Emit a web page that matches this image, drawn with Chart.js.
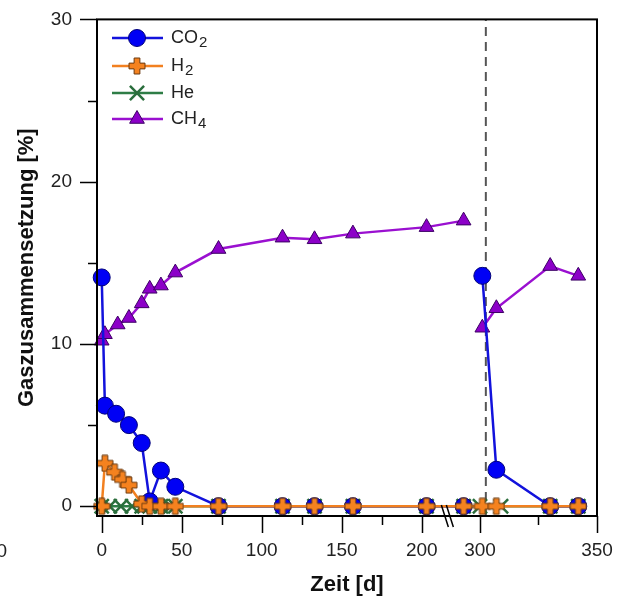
<!DOCTYPE html>
<html>
<head>
<meta charset="utf-8">
<script src="https://cdn.jsdelivr.net/npm/chart.js@4.4.1/dist/chart.umd.min.js"></script>
<style>
  html, body { margin: 0; padding: 0; background: #fff; }
</style>
</head>
<body>
<canvas id="chart" width="623" height="599"></canvas>
<script>
// days of sampling (null value = gap after restart)
const co2Days = [0, 2, 9, 17, 25, 30, 37, 46, 73, 113, 133, 157, 203, 293, 297, 301, 307, 330, 342];
const co2Values = [14.1, 6.2, 5.7, 5.0, 3.9, 0.3, 2.2, 1.2, 0, 0, 0, 0, 0, 0, null, 14.2, 2.25, 0, 0];

const h2Days = [0, 2, 8, 13, 17, 25, 30, 37, 46, 73, 113, 133, 157, 203, 293, 301, 307, 330, 342];
const h2Values = [0, 2.65, 2.1, 1.65, 1.3, 0.15, 0, 0, 0, 0, 0, 0, 0, 0, 0, 0, 0, 0, 0];

const heDays = [0, 5, 12, 19, 25, 30, 37, 43, 46, 73, 113, 133, 157, 203, 293, 300, 309, 330, 342];
const heValues = [0, 0, 0, 0, 0, 0, 0, 0, 0, 0, 0, 0, 0, 0, 0, 0, 0, 0, 0];

const ch4Days = [0, 2, 10, 17, 25, 30, 37, 46, 73, 113, 133, 157, 203, 293, 297, 301, 307, 330, 342];
const ch4Values = [10.2, 10.6, 11.2, 11.6, 12.5, 13.4, 13.6, 14.4, 15.85, 16.55, 16.45, 16.8, 17.2, 17.6, null, 11.0, 12.2, 14.8, 14.2];

const restartDay = 302.5;

const xMajor = [0, 50, 100, 150, 200, 300, 350];
const xMinor = [25, 75, 125, 175, 325];
const yMajor = [0, 10, 20, 30];
const yMinor = [5, 15, 25];

// broken x axis: 0..~215 linear, then 285..350 stretched
function axisPos(d) {
  return d < 260 ? d : 236.4 + (d - 300) * 1.4625;
}
function axisDay(p) {
  return p < 220 ? p : 300 + (p - 236.4) / 1.4625;
}
function pts(days, vals) {
  return days.map((d, i) => ({ x: axisPos(d), y: vals[i] }));
}

// outlined plus marker for H2
function plusMarker(size, fill, stroke) {
  const c = document.createElement("canvas");
  c.width = size;
  c.height = size;
  const g = c.getContext("2d");
  const m = size / 2, a = size / 2 - 1, t = size * 0.16;
  g.beginPath();
  g.moveTo(m - t, m - a);
  g.lineTo(m + t, m - a);
  g.lineTo(m + t, m - t);
  g.lineTo(m + a, m - t);
  g.lineTo(m + a, m + t);
  g.lineTo(m + t, m + t);
  g.lineTo(m + t, m + a);
  g.lineTo(m - t, m + a);
  g.lineTo(m - t, m + t);
  g.lineTo(m - a, m + t);
  g.lineTo(m - a, m - t);
  g.lineTo(m - t, m - t);
  g.closePath();
  g.fillStyle = fill;
  g.fill();
  g.lineWidth = 1;
  g.strokeStyle = stroke;
  g.stroke();
  return c;
}
const h2Marker = plusMarker(18, "#f5821f", "#6a3a10");

const tickFont = { family: "'Liberation Sans', Arial, sans-serif", size: 19 };
const titleFont = "bold 22px 'Liberation Sans', Arial, sans-serif";

const decor = {
  id: "decor",
  afterDraw(chart) {
    const ctx = chart.ctx;
    const a = chart.chartArea;
    const xs = chart.scales.x, ys = chart.scales.y;
    ctx.save();
    ctx.strokeStyle = "#000";
    ctx.lineWidth = 2;
    ctx.strokeRect(a.left, a.top, a.right - a.left, a.bottom - a.top);

    ctx.lineWidth = 1.5;
    ctx.beginPath();
    xMajor.forEach(d => {
      const x = Math.round(xs.getPixelForValue(axisPos(d))) + 0.5;
      ctx.moveTo(x, a.bottom); ctx.lineTo(x, a.bottom + 17);
    });
    xMinor.forEach(d => {
      const x = Math.round(xs.getPixelForValue(axisPos(d))) + 0.5;
      ctx.moveTo(x, a.bottom); ctx.lineTo(x, a.bottom + 9);
    });
    yMajor.forEach(v => {
      const y = Math.round(ys.getPixelForValue(v)) + 0.5;
      ctx.moveTo(a.left, y); ctx.lineTo(a.left - 17, y);
    });
    yMinor.forEach(v => {
      const y = Math.round(ys.getPixelForValue(v)) + 0.5;
      ctx.moveTo(a.left, y); ctx.lineTo(a.left - 9, y);
    });
    ctx.stroke();

    // axis break
    const bx = xs.getPixelForValue(216);
    ctx.lineWidth = 1.5;
    ctx.beginPath();
    ctx.moveTo(bx - 6, a.bottom - 11); ctx.lineTo(bx + 1, a.bottom + 11);
    ctx.moveTo(bx - 1, a.bottom - 11); ctx.lineTo(bx + 6, a.bottom + 11);
    ctx.stroke();

    // axis titles
    ctx.fillStyle = "#111";
    ctx.font = titleFont;
    ctx.textAlign = "center";
    ctx.textBaseline = "middle";
    ctx.fillText("Zeit [d]", (a.left + a.right) / 2, 585);
    ctx.save();
    ctx.translate(27, (a.top + a.bottom) / 2);
    ctx.rotate(-Math.PI / 2);
    ctx.fillText("Gaszusammensetzung [%]", 0, 0);
    ctx.restore();

    // stray clipped label at far left
    ctx.font = "19px 'Liberation Sans', Arial, sans-serif";
    ctx.fillStyle = "#222";
    ctx.textAlign = "right";
    ctx.fillText("0", 7, 552);

    // legend
    const rows = [
      { ds: 0, main: "CO", sub: "2", y: 38 },
      { ds: 1, main: "H", sub: "2", y: 66 },
      { ds: 2, main: "He", sub: "", y: 93 },
      { ds: 3, main: "CH", sub: "4", y: 119 }
    ];
    rows.forEach(r => {
      const ds = chart.data.datasets[r.ds];
      ctx.strokeStyle = ds.borderColor;
      ctx.lineWidth = ds.borderWidth;
      ctx.beginPath();
      ctx.moveTo(112, r.y); ctx.lineTo(163, r.y);
      ctx.stroke();
      ctx.fillStyle = ds.pointBackgroundColor || "#000";
      ctx.strokeStyle = ds.pointBorderColor;
      ctx.lineWidth = ds.pointBorderWidth;
      Chart.helpers.drawPoint(ctx, {
        pointStyle: ds.pointStyle, radius: ds.pointRadius, rotation: 0, borderWidth: ds.pointBorderWidth
      }, 137, r.y);
      ctx.fillStyle = "#222";
      ctx.textAlign = "left";
      ctx.font = "18px 'Liberation Sans', Arial, sans-serif";
      ctx.fillText(r.main, 171, r.y);
      const w = ctx.measureText(r.main).width;
      if (r.sub) {
        ctx.font = "15px 'Liberation Sans', Arial, sans-serif";
        ctx.fillText(r.sub, 171 + w + 1, r.y + 5);
      }
    });
    ctx.restore();
  }
};

new Chart(document.getElementById("chart").getContext("2d"), {
  type: "line",
  data: {
    datasets: [
      {
        label: "CO2",
        data: pts(co2Days, co2Values),
        borderColor: "#1212dc",
        borderWidth: 2.5,
        pointStyle: "circle",
        pointRadius: 8.5,
        pointBackgroundColor: "#0000f5",
        pointBorderColor: "#00007a",
        pointBorderWidth: 1,
        order: 2,
        clip: false
      },
      {
        label: "H2",
        data: pts(h2Days, h2Values),
        borderColor: "#f28020",
        borderWidth: 2.5,
        pointStyle: h2Marker,
        pointRadius: 9,
        pointBackgroundColor: "#f5821f",
        pointBorderColor: "#6a3a10",
        pointBorderWidth: 1,
        order: 1,
        clip: false
      },
      {
        label: "He",
        data: pts(heDays, heValues),
        borderColor: "#2e7d46",
        borderWidth: 2.5,
        pointStyle: "crossRot",
        pointRadius: 10,
        pointBackgroundColor: "#2a6e3c",
        pointBorderColor: "#2a6e3c",
        pointBorderWidth: 2.5,
        order: 4,
        clip: false
      },
      {
        label: "CH4",
        data: pts(ch4Days, ch4Values),
        borderColor: "#9a10d0",
        borderWidth: 2.5,
        pointStyle: "triangle",
        pointRadius: 8.5,
        pointBackgroundColor: "#8c00c8",
        pointBorderColor: "#3c0064",
        pointBorderWidth: 1,
        order: 3,
        clip: false
      },
      {
        label: "restart",
        data: [{ x: axisPos(restartDay), y: -0.6 }, { x: axisPos(restartDay), y: 30 }],
        borderColor: "#555",
        borderWidth: 2,
        borderDash: [9, 6],
        pointRadius: 0,
        order: 10
      }
    ]
  },
  options: {
    responsive: false,
    animation: false,
    layout: { padding: { top: 15, right: 26, left: 0, bottom: 0 } },
    plugins: {
      legend: { display: false },
      tooltip: { enabled: false }
    },
    scales: {
      x: {
        type: "linear",
        min: -2.94,
        max: axisPos(350),
        afterFit: s => { s.height = 83; },
        afterBuildTicks: s => { s.ticks = xMajor.map(d => ({ value: axisPos(d) })); },
        ticks: {
          callback: v => Math.round(axisDay(v)),
          font: tickFont,
          color: "#222",
          padding: 6,
          maxRotation: 0,
          autoSkip: false
        },
        grid: { drawOnChartArea: false, tickLength: 17, tickColor: "rgba(0,0,0,0)" },
        border: { display: false }
      },
      y: {
        min: -0.6,
        max: 30,
        afterFit: s => { s.width = 97; },
        afterBuildTicks: s => { s.ticks = yMajor.map(v => ({ value: v })); },
        ticks: { font: tickFont, color: "#222", padding: 8 },
        grid: { drawOnChartArea: false, tickLength: 17, tickColor: "rgba(0,0,0,0)" },
        border: { display: false }
      }
    }
  },
  plugins: [decor]
});
</script>
</body>
</html>
